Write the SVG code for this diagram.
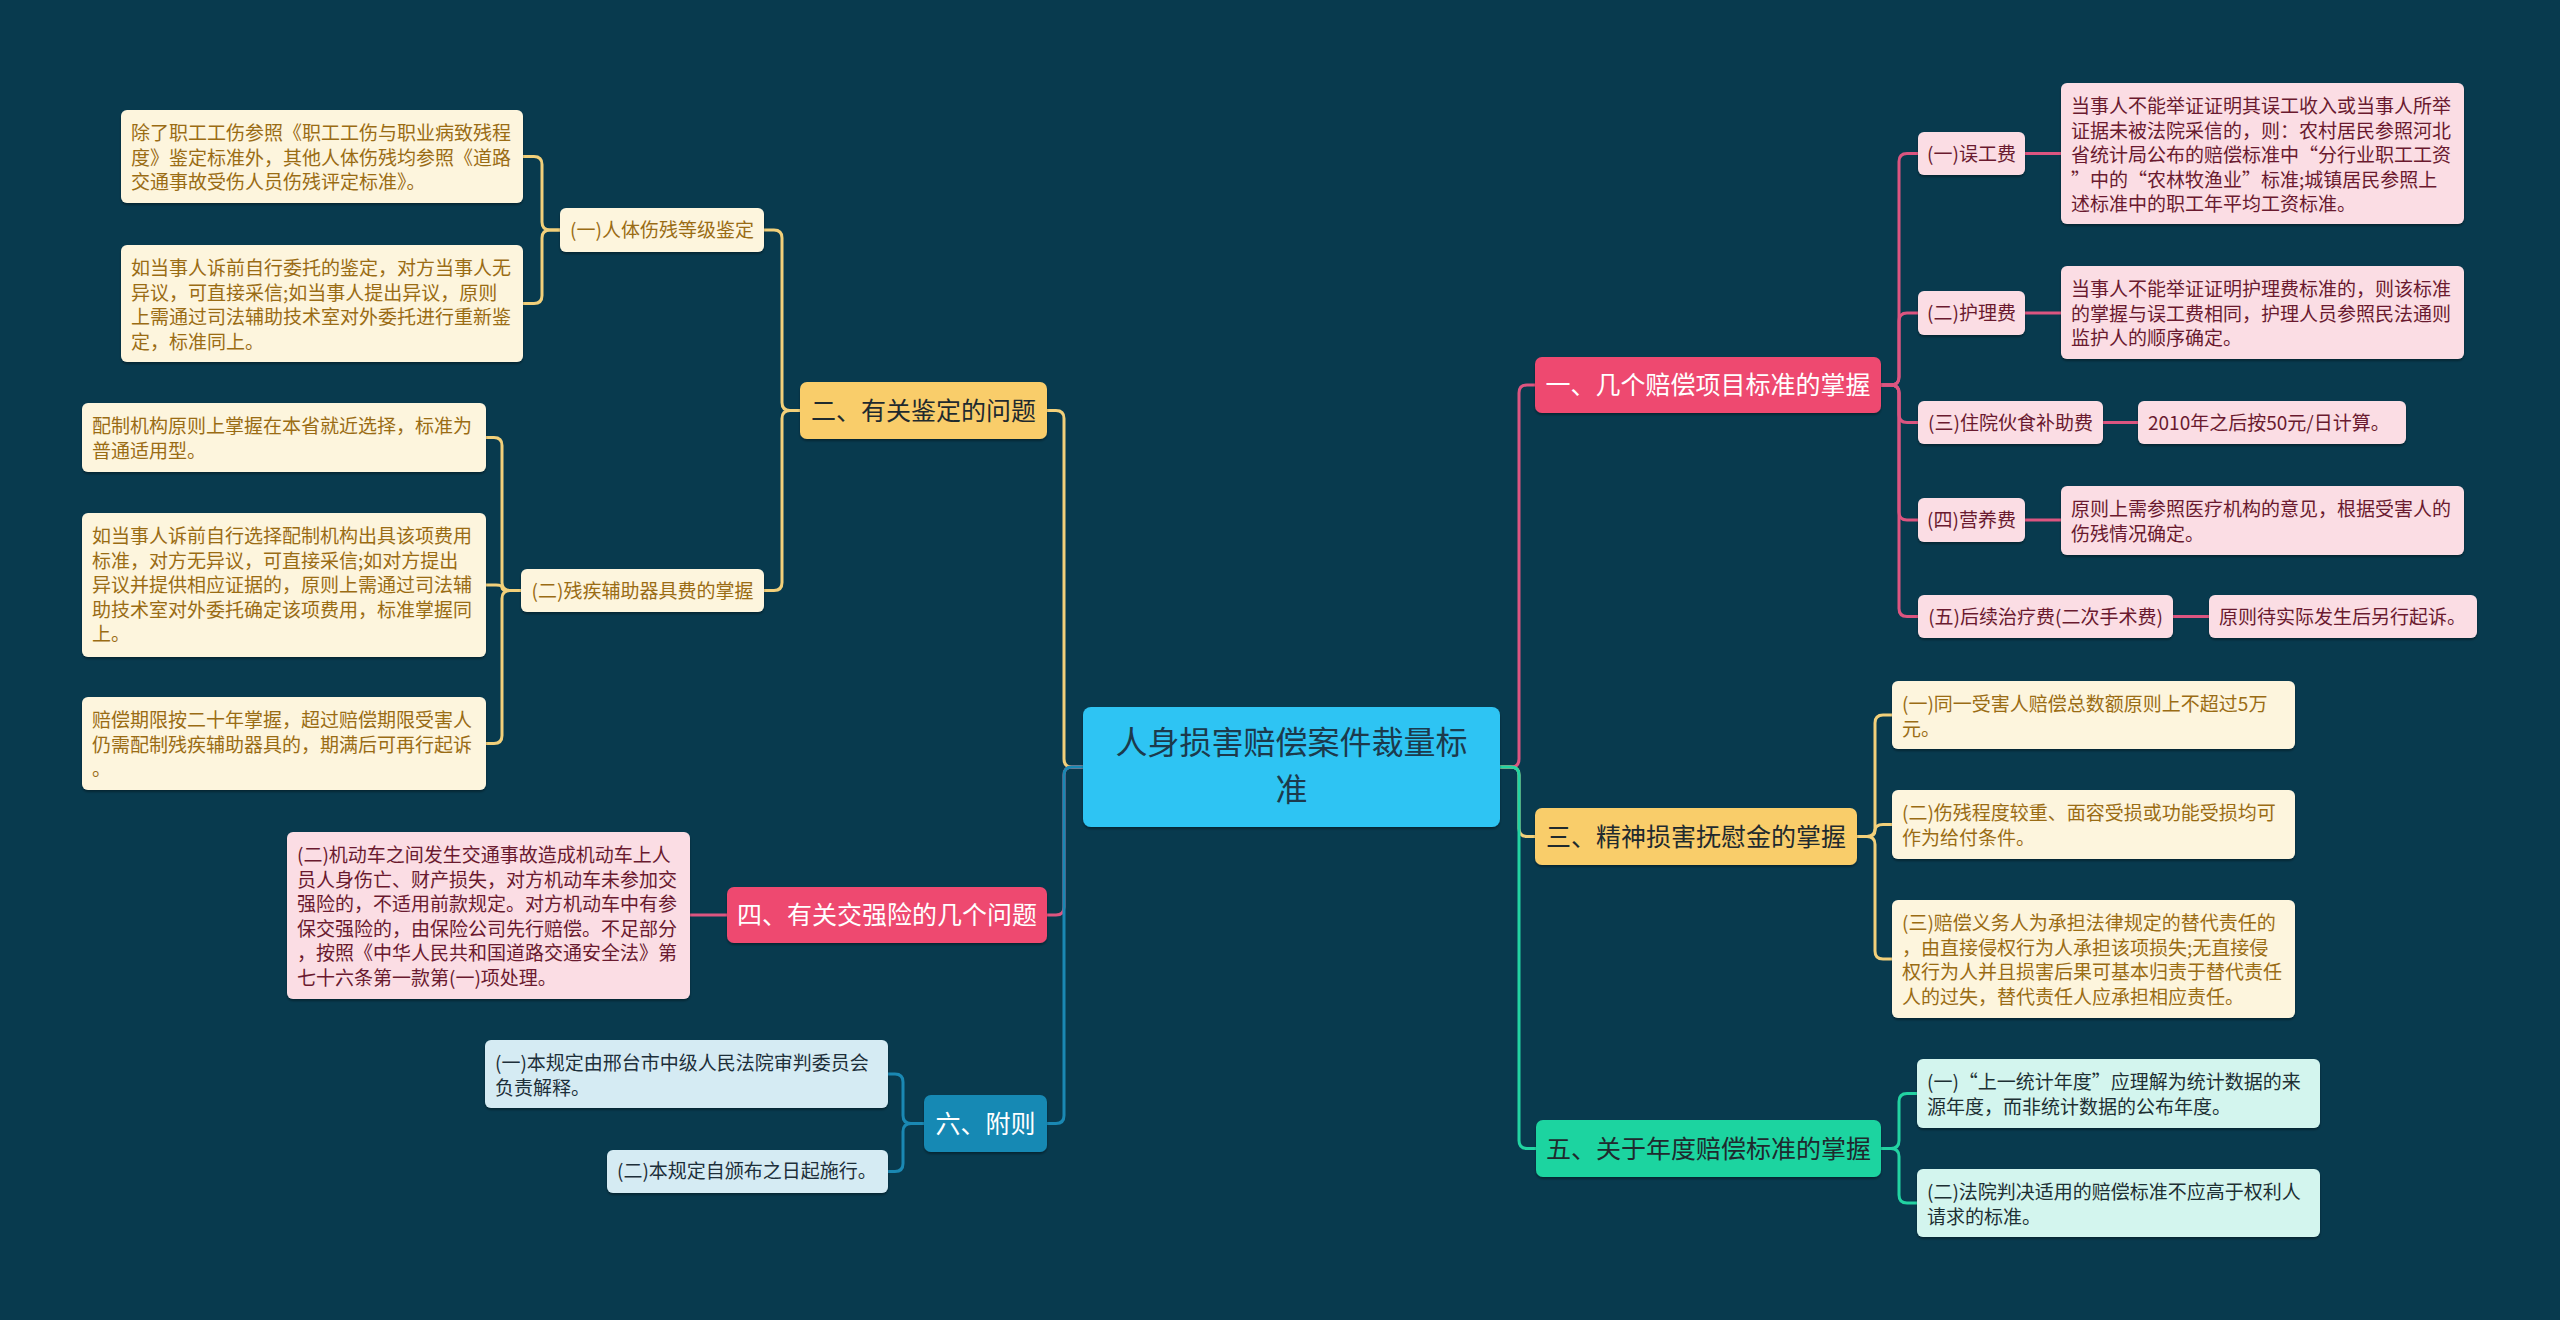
<svg xmlns="http://www.w3.org/2000/svg" width="2560" height="1320" viewBox="0 0 2560 1320">
<defs>
<filter id="sh" x="-5%" y="-10%" width="110%" height="130%">
<feDropShadow dx="0" dy="2" stdDeviation="1.2" flood-color="#000" flood-opacity="0.35"/>
</filter>
<style>
text{font-family:"Noto Sans CJK SC","Noto Sans",sans-serif;}
.bg{fill:#083a4e;}
.c{fill:none;stroke-width:3;stroke-linecap:round;stroke-linejoin:round;}
.cy{stroke:#f2d07a;}
.cp{stroke:#dc5580;}
.cg{stroke:#22d3a2;}
.cb{stroke:#1a88b3;}
.box{filter:url(#sh);}
.root{fill:#2ec4f3;}
.ry{fill:#f9cd6b;}
.rp{fill:#ee4a70;}
.rg{fill:#1fd4a0;}
.rb{fill:#1889b4;}
.ly{fill:#fdf5dd;}
.lp{fill:#fbdde4;}
.lg{fill:#d3f5ee;}
.lb{fill:#d5ebf3;}
.t19{font-size:19px;}
.t25{font-size:25px;}
.t33{font-size:32px;}
.ty{fill:#9a6c14;}
.tp{fill:#6a1a2f;}
.tg{fill:#1d2f33;}
.tb{fill:#1d2f3a;}
.td{fill:#1f2a2e;}
.tw{fill:#ffffff;}
.tr{fill:#1c3a4c;}
.m{text-anchor:middle;}
</style>
</defs>
<rect class="bg" x="0" y="0" width="2560" height="1320"/>

<g id="connectors">
<path class="c cy" d="M1083,767 H1072 Q1064,767 1064,759 V418.5 Q1064,410.5 1056,410.5 H1047"/>
<path class="c cp" d="M1083,767 H1072 Q1064,767 1064,775 V907 Q1064,915 1056,915 H1047"/>
<path class="c cb" d="M1083,767 H1072 Q1064,767 1064,775 V1115.5 Q1064,1123.5 1056,1123.5 H1047"/>
<path class="c cp" d="M1500,767 H1511 Q1519,767 1519,759 V393 Q1519,385 1527,385 H1535"/>
<path class="c cy" d="M1500,767 H1511 Q1519,767 1519,775 V828.5 Q1519,836.5 1527,836.5 H1535"/>
<path class="c cg" d="M1500,767 H1511 Q1519,767 1519,775 V1140.5 Q1519,1148.5 1527,1148.5 H1536"/>
<path class="c cy" d="M800,410.5 H790 Q782,410.5 782,402.5 V238 Q782,230 774,230 H764"/>
<path class="c cy" d="M800,410.5 H790 Q782,410.5 782,418.5 V582.5 Q782,590.5 774,590.5 H764"/>
<path class="c cy" d="M560,230 H550 Q542,230 542,222 V164.5 Q542,156.5 534,156.5 H523"/>
<path class="c cy" d="M560,230 H550 Q542,230 542,238 V295.5 Q542,303.5 534,303.5 H523"/>
<path class="c cy" d="M521,590.5 H510 Q502,590.5 502,582.5 V445.5 Q502,437.5 494,437.5 H486"/>
<path class="c cy" d="M521,590.5 H508 Q502,590.5 502,587.75 Q502,585 496,585 H486"/>
<path class="c cy" d="M521,590.5 H510 Q502,590.5 502,598.5 V735.5 Q502,743.5 494,743.5 H486"/>
<path class="c cp" d="M727,915 H690"/>
<path class="c cb" d="M924,1123.5 H911 Q903,1123.5 903,1115.5 V1082 Q903,1074 895,1074 H888"/>
<path class="c cb" d="M924,1123.5 H911 Q903,1123.5 903,1131.5 V1163.5 Q903,1171.5 895,1171.5 H888"/>
<path class="c cp" d="M1881,385 H1891 Q1899,385 1899,377 V161.5 Q1899,153.5 1907,153.5 H1918"/>
<path class="c cp" d="M1881,385 H1891 Q1899,385 1899,377 V321 Q1899,313 1907,313 H1918"/>
<path class="c cp" d="M1881,385 H1891 Q1899,385 1899,393 V414.5 Q1899,422.5 1907,422.5 H1918"/>
<path class="c cp" d="M1881,385 H1891 Q1899,385 1899,393 V512 Q1899,520 1907,520 H1918"/>
<path class="c cp" d="M1881,385 H1891 Q1899,385 1899,393 V608.5 Q1899,616.5 1907,616.5 H1918"/>
<path class="c cp" d="M2025,153.5 H2061"/>
<path class="c cp" d="M2025,313 H2061"/>
<path class="c cp" d="M2103,422.5 H2138"/>
<path class="c cp" d="M2025,520 H2061"/>
<path class="c cp" d="M2173,616.5 H2209"/>
<path class="c cy" d="M1857,836.5 H1867 Q1875,836.5 1875,828.5 V723 Q1875,715 1883,715 H1892"/>
<path class="c cy" d="M1857,836.5 H1867 Q1875,836.5 1875,830.5 Q1875,824.5 1883,824.5 H1892"/>
<path class="c cy" d="M1857,836.5 H1867 Q1875,836.5 1875,844.5 V951 Q1875,959 1883,959 H1892"/>
<path class="c cg" d="M1881,1148.5 H1891 Q1899,1148.5 1899,1140.5 V1101.5 Q1899,1093.5 1907,1093.5 H1917"/>
<path class="c cg" d="M1881,1148.5 H1891 Q1899,1148.5 1899,1156.5 V1195 Q1899,1203 1907,1203 H1917"/>
</g>

<g id="root">
<rect class="root box" x="1083" y="707" width="417" height="120" rx="8"/>
<text class="t33 tr m"><tspan x="1291.5" y="754">人身损害赔偿案件裁量标</tspan><tspan x="1291.5" y="801">准</tspan></text>
</g>

<g id="n2">
<rect class="ry box" x="800" y="382" width="247" height="57" rx="7"/>
<text class="t25 td m" x="923.5" y="419.5">二、有关鉴定的问题</text>
</g>
<g id="n2-1">
<rect class="ly box" x="560" y="208" width="204" height="44" rx="6"/>
<text class="t19 ty m" x="662" y="237">(一)人体伤残等级鉴定</text>
</g>
<g id="n2-1-1">
<rect class="ly box" x="121" y="110" width="402" height="93" rx="6"/>
<text class="t19 ty" x="131" y="140">除了职工工伤参照《职工工伤与职业病致残程</text>
<text class="t19 ty" x="131" y="164.5">度》鉴定标准外，其他人体伤残均参照《道路</text>
<text class="t19 ty" x="131" y="189">交通事故受伤人员伤残评定标准》。</text>
</g>
<g id="n2-1-2">
<rect class="ly box" x="121" y="245" width="402" height="117" rx="6"/>
<text class="t19 ty" x="131" y="275">如当事人诉前自行委托的鉴定，对方当事人无</text>
<text class="t19 ty" x="131" y="299.5">异议，可直接采信;如当事人提出异议，原则</text>
<text class="t19 ty" x="131" y="324">上需通过司法辅助技术室对外委托进行重新鉴</text>
<text class="t19 ty" x="131" y="348.5">定，标准同上。</text>
</g>
<g id="n2-2">
<rect class="ly box" x="521" y="569" width="243" height="43" rx="6"/>
<text class="t19 ty m" x="642.5" y="597.5">(二)残疾辅助器具费的掌握</text>
</g>
<g id="n2-2-1">
<rect class="ly box" x="82" y="403" width="404" height="69" rx="6"/>
<text class="t19 ty" x="92" y="433">配制机构原则上掌握在本省就近选择，标准为</text>
<text class="t19 ty" x="92" y="457.5">普通适用型。</text>
</g>
<g id="n2-2-2">
<rect class="ly box" x="82" y="513" width="404" height="144" rx="6"/>
<text class="t19 ty" x="92" y="543">如当事人诉前自行选择配制机构出具该项费用</text>
<text class="t19 ty" x="92" y="567.5">标准，对方无异议，可直接采信;如对方提出</text>
<text class="t19 ty" x="92" y="592">异议并提供相应证据的，原则上需通过司法辅</text>
<text class="t19 ty" x="92" y="616.5">助技术室对外委托确定该项费用，标准掌握同</text>
<text class="t19 ty" x="92" y="641">上。</text>
</g>
<g id="n2-2-3">
<rect class="ly box" x="82" y="697" width="404" height="93" rx="6"/>
<text class="t19 ty" x="92" y="727">赔偿期限按二十年掌握，超过赔偿期限受害人</text>
<text class="t19 ty" x="92" y="751.5">仍需配制残疾辅助器具的，期满后可再行起诉</text>
<text class="t19 ty" x="92" y="776">。</text>
</g>

<g id="n4">
<rect class="rp box" x="727" y="887" width="320" height="56" rx="7"/>
<text class="t25 tw m" x="887" y="924">四、有关交强险的几个问题</text>
</g>
<g id="n4-1">
<rect class="lp box" x="287" y="832" width="403" height="167" rx="6"/>
<text class="t19 tp" x="297" y="862">(二)机动车之间发生交通事故造成机动车上人</text>
<text class="t19 tp" x="297" y="886.5">员人身伤亡、财产损失，对方机动车未参加交</text>
<text class="t19 tp" x="297" y="911">强险的，不适用前款规定。对方机动车中有参</text>
<text class="t19 tp" x="297" y="935.5">保交强险的，由保险公司先行赔偿。不足部分</text>
<text class="t19 tp" x="297" y="960">，按照《中华人民共和国道路交通安全法》第</text>
<text class="t19 tp" x="297" y="984.5">七十六条第一款第(一)项处理。</text>
</g>

<g id="n6">
<rect class="rb box" x="924" y="1095" width="123" height="57" rx="7"/>
<text class="t25 tw m" x="985.5" y="1132.5">六、附则</text>
</g>
<g id="n6-1">
<rect class="lb box" x="485" y="1040" width="403" height="68" rx="6"/>
<text class="t19 tb" x="495" y="1070">(一)本规定由邢台市中级人民法院审判委员会</text>
<text class="t19 tb" x="495" y="1094.5">负责解释。</text>
</g>
<g id="n6-2">
<rect class="lb box" x="607" y="1150" width="281" height="43" rx="6"/>
<text class="t19 tb" x="617" y="1178">(二)本规定自颁布之日起施行。</text>
</g>

<g id="n1">
<rect class="rp box" x="1535" y="357" width="346" height="56" rx="7"/>
<text class="t25 tw m" x="1708" y="394">一、几个赔偿项目标准的掌握</text>
</g>
<g id="n1-1">
<rect class="lp box" x="1918" y="132" width="107" height="43" rx="6"/>
<text class="t19 tp m" x="1971.5" y="160.5">(一)误工费</text>
</g>
<g id="n1-1-1">
<rect class="lp box" x="2061" y="83" width="403" height="141" rx="6"/>
<text class="t19 tp" x="2071" y="113">当事人不能举证证明其误工收入或当事人所举</text>
<text class="t19 tp" x="2071" y="137.5">证据未被法院采信的，则：农村居民参照河北</text>
<text class="t19 tp" x="2071" y="162">省统计局公布的赔偿标准中“分行业职工工资</text>
<text class="t19 tp" x="2071" y="186.5">”中的“农林牧渔业”标准;城镇居民参照上</text>
<text class="t19 tp" x="2071" y="211">述标准中的职工年平均工资标准。</text>
</g>
<g id="n1-2">
<rect class="lp box" x="1918" y="291" width="107" height="44" rx="6"/>
<text class="t19 tp m" x="1971.5" y="320">(二)护理费</text>
</g>
<g id="n1-2-1">
<rect class="lp box" x="2061" y="266" width="403" height="93" rx="6"/>
<text class="t19 tp" x="2071" y="296">当事人不能举证证明护理费标准的，则该标准</text>
<text class="t19 tp" x="2071" y="320.5">的掌握与误工费相同，护理人员参照民法通则</text>
<text class="t19 tp" x="2071" y="345">监护人的顺序确定。</text>
</g>
<g id="n1-3">
<rect class="lp box" x="1918" y="401" width="185" height="43" rx="6"/>
<text class="t19 tp m" x="2010.5" y="429.5">(三)住院伙食补助费</text>
</g>
<g id="n1-3-1">
<rect class="lp box" x="2138" y="401" width="268" height="43" rx="6"/>
<text class="t19 tp" x="2148" y="429.5">2010年之后按50元/日计算。</text>
</g>
<g id="n1-4">
<rect class="lp box" x="1918" y="498" width="107" height="44" rx="6"/>
<text class="t19 tp m" x="1971.5" y="527">(四)营养费</text>
</g>
<g id="n1-4-1">
<rect class="lp box" x="2061" y="486" width="403" height="69" rx="6"/>
<text class="t19 tp" x="2071" y="516">原则上需参照医疗机构的意见，根据受害人的</text>
<text class="t19 tp" x="2071" y="540.5">伤残情况确定。</text>
</g>
<g id="n1-5">
<rect class="lp box" x="1918" y="595" width="255" height="43" rx="6"/>
<text class="t19 tp m" x="2045.5" y="623.5">(五)后续治疗费(二次手术费)</text>
</g>
<g id="n1-5-1">
<rect class="lp box" x="2209" y="595" width="268" height="43" rx="6"/>
<text class="t19 tp" x="2219" y="623.5">原则待实际发生后另行起诉。</text>
</g>

<g id="n3">
<rect class="ry box" x="1535" y="808" width="322" height="57" rx="7"/>
<text class="t25 td m" x="1696" y="845.5">三、精神损害抚慰金的掌握</text>
</g>
<g id="n3-1">
<rect class="ly box" x="1892" y="681" width="403" height="68" rx="6"/>
<text class="t19 ty" x="1902" y="711">(一)同一受害人赔偿总数额原则上不超过5万</text>
<text class="t19 ty" x="1902" y="735.5">元。</text>
</g>
<g id="n3-2">
<rect class="ly box" x="1892" y="790" width="403" height="69" rx="6"/>
<text class="t19 ty" x="1902" y="820">(二)伤残程度较重、面容受损或功能受损均可</text>
<text class="t19 ty" x="1902" y="844.5">作为给付条件。</text>
</g>
<g id="n3-3">
<rect class="ly box" x="1892" y="900" width="403" height="118" rx="6"/>
<text class="t19 ty" x="1902" y="930">(三)赔偿义务人为承担法律规定的替代责任的</text>
<text class="t19 ty" x="1902" y="954.5">，由直接侵权行为人承担该项损失;无直接侵</text>
<text class="t19 ty" x="1902" y="979">权行为人并且损害后果可基本归责于替代责任</text>
<text class="t19 ty" x="1902" y="1003.5">人的过失，替代责任人应承担相应责任。</text>
</g>

<g id="n5">
<rect class="rg box" x="1536" y="1120" width="345" height="57" rx="7"/>
<text class="t25 td m" x="1708.5" y="1157.5">五、关于年度赔偿标准的掌握</text>
</g>
<g id="n5-1">
<rect class="lg box" x="1917" y="1059" width="403" height="69" rx="6"/>
<text class="t19 tg" x="1927" y="1089">(一)“上一统计年度”应理解为统计数据的来</text>
<text class="t19 tg" x="1927" y="1113.5">源年度，而非统计数据的公布年度。</text>
</g>
<g id="n5-2">
<rect class="lg box" x="1917" y="1169" width="403" height="68" rx="6"/>
<text class="t19 tg" x="1927" y="1199">(二)法院判决适用的赔偿标准不应高于权利人</text>
<text class="t19 tg" x="1927" y="1223.5">请求的标准。</text>
</g>
</svg>
